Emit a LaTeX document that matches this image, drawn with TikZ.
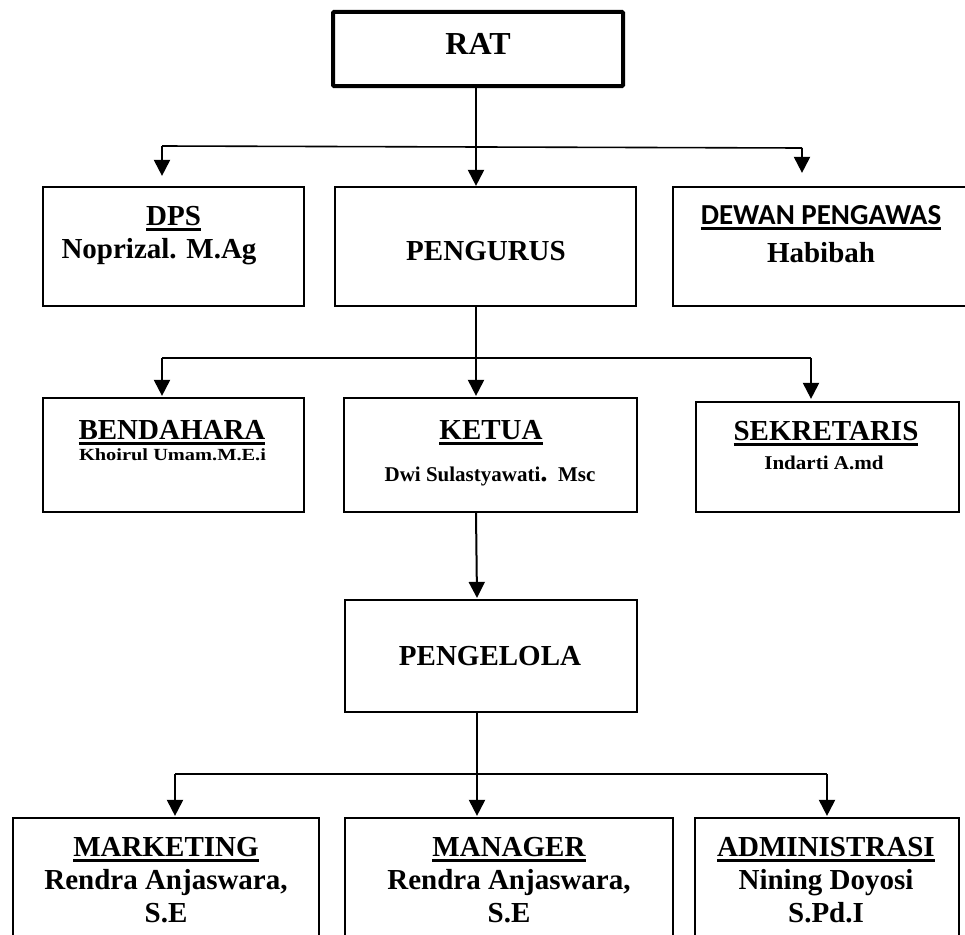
\documentclass[tikz,border=0pt]{standalone}
\usepackage{fontspec}
\usepackage{graphicx}
\setmainfont{Liberation Serif}
\newfontfamily\labelsans{Carlito}
\usetikzlibrary{arrows.meta}
% thick underline drawn just below the baseline
\newcommand\ulbar[1]{\setbox0\hbox{#1}\rlap{\rule[-5.5pt]{\wd0}{2.8pt}}\box0}
\tikzset{
  orgbox/.style={draw, line width=2.2pt, inner sep=0pt},
  topbox/.style={draw, line width=4pt, rounded corners=1pt, inner sep=0pt},
  txt/.style={anchor=base, inner sep=0pt},
  big/.style={txt, font=\fontsize{29}{29}\selectfont\bfseries},
  small/.style={txt, font=\fontsize{21}{21}\selectfont\bfseries},
  link/.style={line width=2pt, -{Triangle[length=16pt,width=16pt]}},
  bus/.style={line width=2pt},
}
\begin{document}
\begin{tikzpicture}[x=1pt, y=-1pt]
\useasboundingbox (0,0) rectangle (965,934);
\clip (0,0) rectangle (965,934);

% boxes
\node[topbox, minimum width=290pt, minimum height=74pt] (rat) at (478,49) {};
\node[orgbox, minimum width=261pt, minimum height=119pt] (dps) at (173.5,246.5) {};
\node[orgbox, minimum width=301pt, minimum height=119pt] (pengurus) at (485.5,246.5) {};
\node[orgbox, minimum width=295pt, minimum height=119pt] (dewan) at (820.5,246.5) {};
\node[orgbox, minimum width=261pt, minimum height=114pt] (bendahara) at (173.5,455) {};
\node[orgbox, minimum width=293pt, minimum height=114pt] (ketua) at (490.5,455) {};
\node[orgbox, minimum width=263pt, minimum height=110pt] (sekretaris) at (827.5,457) {};
\node[orgbox, minimum width=292pt, minimum height=112pt] (pengelola) at (491,656) {};
\node[orgbox, minimum width=306pt, minimum height=132pt] (marketing) at (166,884) {};
\node[orgbox, minimum width=328pt, minimum height=132pt] (manager) at (509,884) {};
\node[orgbox, minimum width=264pt, minimum height=132pt] (admin) at (827,884) {};

% texts
\node[txt, font=\fontsize{32}{32}\selectfont\bfseries] (rat-t) at (478,55) {RAT};

\node[big] (dps-t) at (173.5,225) {\ulbar{DPS}};
\node[big] (dps-n) at (159,258) {Noprizal. M.Ag};
\node[big] (pengurus-t) at (486,260) {PENGURUS};
\node[txt, font=\fontsize{29}{29}\selectfont\labelsans\bfseries] (dewan-t) at (821,224) {\ulbar{DEWAN PENGAWAS}};
\node[big] (dewan-n) at (821,262) {Habibah};

\node[big] (bendahara-t) at (172,439) {\ulbar{BENDAHARA}};
\node[txt, font=\fontsize{17}{17}\selectfont\bfseries] (bendahara-n) at (172.5,460) {\scalebox{1.2}[1]{Khoirul Umam.M.E.i}};
\node[big] (ketua-t) at (491,439) {\ulbar{KETUA}};
\node[small] (ketua-n) at (490,481) {Dwi Sulastyawati{\fontsize{29}{29}\selectfont.}\ \ Msc};
\node[big] (sekretaris-t) at (826,440) {\ulbar{SEKRETARIS}};
\node[txt, font=\fontsize{19.5}{19.5}\selectfont\bfseries] (sekretaris-n) at (824,469) {\scalebox{1.08}[1]{Indarti A.md}};

\node[big] (pengelola-t) at (490,665) {PENGELOLA};

\node[big] (marketing-t) at (166,856) {\ulbar{MARKETING}};
\node[big] (marketing-n) at (166,889) {Rendra Anjaswara,};
\node[big] (marketing-d) at (166,922) {S.E};
\node[big] (manager-t) at (509,856) {\ulbar{MANAGER}};
\node[big] (manager-n) at (509,889) {Rendra Anjaswara,};
\node[big] (manager-d) at (509,922) {S.E};
\node[big] (admin-t) at (826,856) {\ulbar{ADMINISTRASI}};
\node[big] (admin-n) at (826,889) {Nining Doyosi};
\node[big] (admin-d) at (826,922) {S.Pd.I};

% connectors
\coordinate (spine) at (476,0);
\coordinate (spine2) at (477,0);
\coordinate (busA-w) at (162,146);
\coordinate (busA-e) at (802,148);
\coordinate (busB-w) at (162,358);
\coordinate (busB-e) at (811,358);
\coordinate (busC-w) at (175,774);
\coordinate (busC-e) at (827,774);

\draw[link] (spine |- rat.south) -- (spine |- pengurus.north);
\draw[bus, line width=1.6pt] (busA-w) -- (busA-e);
\draw[link, shorten >=10pt] (busA-w) -- (busA-w |- dps.north);
\draw[link, shorten >=13pt] (busA-e) -- (busA-e |- dewan.north);

\draw[link, shorten >=1pt] (spine |- pengurus.south) -- (spine |- ketua.north);
\draw[bus] (busB-w) -- (busB-e);
\draw[link, shorten >=1pt] (busB-w) -- (busB-w |- bendahara.north);
\draw[link, shorten >=2pt] (busB-e) -- (busB-e |- sekretaris.north);

\draw[link, shorten >=1pt] (spine |- ketua.south) -- (spine2 |- pengelola.north);

\draw[link, shorten >=1pt] (spine2 |- pengelola.south) -- (spine2 |- manager.north);
\draw[bus] (busC-w) -- (busC-e);
\draw[link, shorten >=1pt] (busC-w) -- (busC-w |- marketing.north);
\draw[link, shorten >=1pt] (busC-e) -- (busC-e |- admin.north);
\end{tikzpicture}
\end{document}
